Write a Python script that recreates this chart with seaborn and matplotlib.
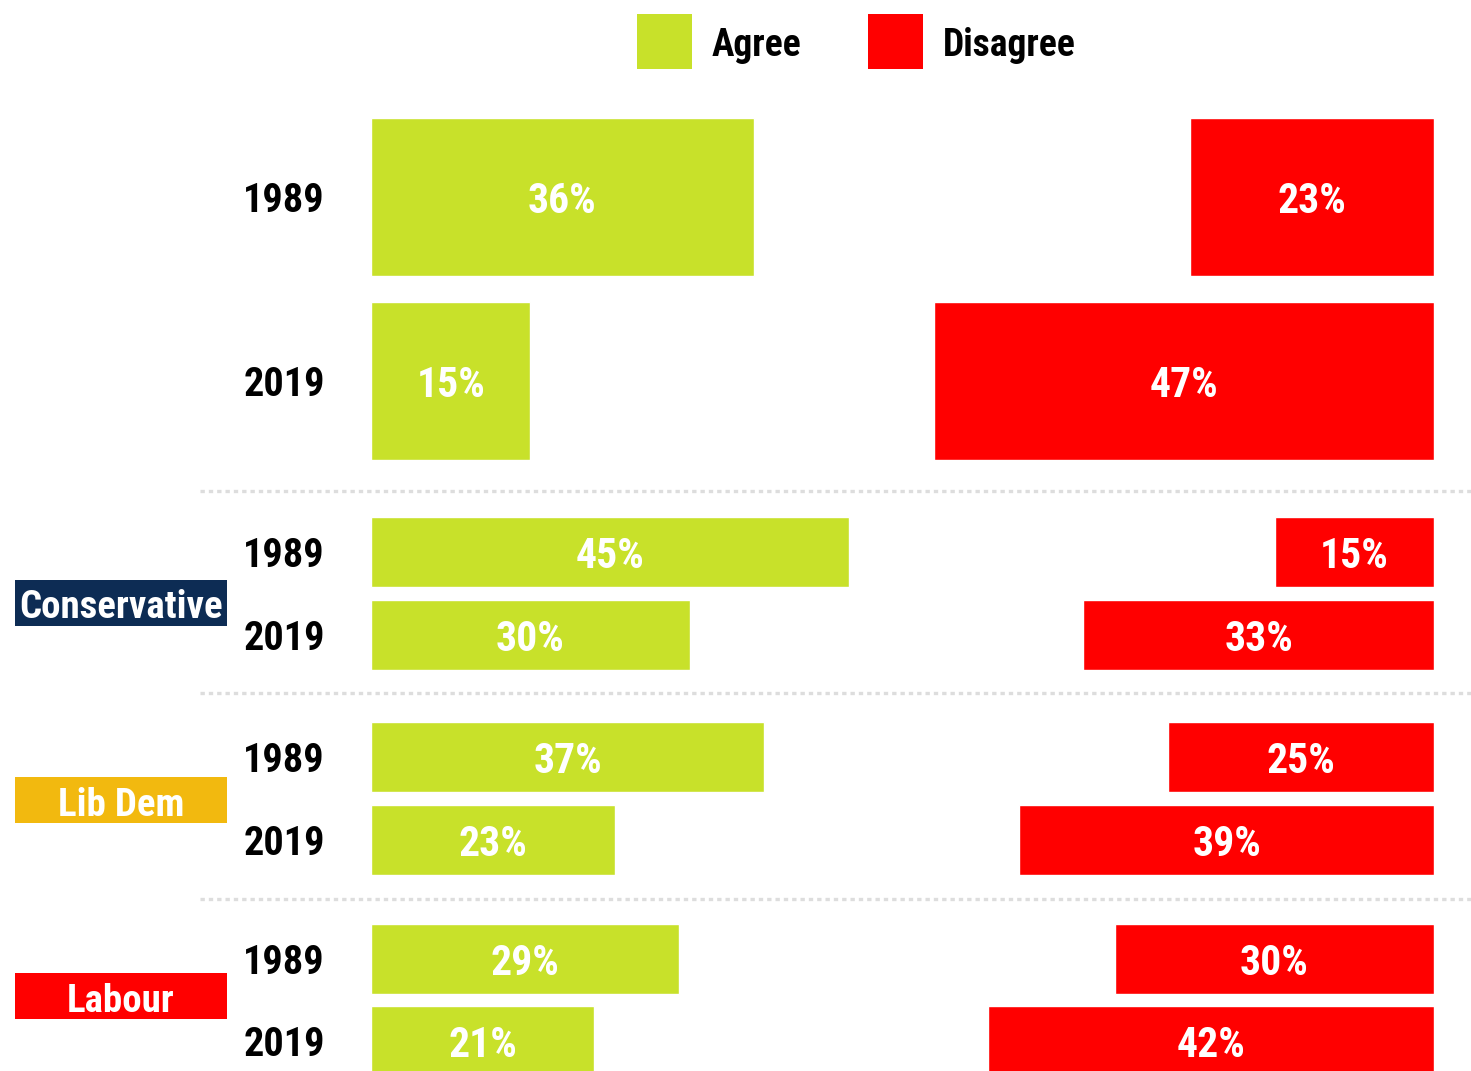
import matplotlib
matplotlib.use("Agg")
import matplotlib.pyplot as plt
import matplotlib.transforms as mtransforms
from matplotlib.patches import Rectangle
from matplotlib.lines import Line2D
import seaborn as sns
import pandas as pd
import logging
logging.getLogger("matplotlib.font_manager").setLevel(logging.ERROR)

# ---------------- data ----------------
years = ["1989", "2019"]
overall_agree = [36, 15]
overall_disagree = [23, 47]
con_agree = [45, 30]
con_disagree = [15, 33]
libdem_agree = [37, 23]
libdem_disagree = [25, 39]
labour_agree = [29, 21]
labour_disagree = [30, 42]
party_names = ["Conservative", "Lib Dem", "Labour"]
legend_labels = ["Agree", "Disagree"]

# ---------------- style ----------------
sns.set_theme(style="white")
FONT = ["Roboto Condensed", "DejaVu Sans Condensed", "Liberation Sans Narrow",
        "Roboto", "DejaVu Sans"]
plt.rcParams["font.family"] = FONT
GREEN = "#c8e12a"
RED = "#ff0000"
NAVY = "#0d2c54"
ORANGE = "#f2b90f"

W, H = 1471, 1071
fig = plt.figure(figsize=(W / 100, H / 100), dpi=100)
fig.patch.set_facecolor("white")


def fx(px):
    return px / W


def fy(py):
    return 1 - py / H


X0, X1 = 371, 1434

groups = [
    (overall_agree, overall_disagree, 118, 184, 158),
    (con_agree, con_disagree, 517, 83, 70),
    (libdem_agree, libdem_disagree, 722, 83, 70),
    (labour_agree, labour_disagree, 924, 82, 70),
]

for agree, disagree, top, pitch, barh in groups:
    w = barh / pitch
    hpx = (1 + w) * pitch
    ax = fig.add_axes([fx(X0), fy(top + hpx), fx(X1) - fx(X0), hpx / H])
    df = pd.DataFrame({"year": years, "agree": agree, "disagree": disagree})
    sns.barplot(data=df, x="agree", y="year", orient="h", color=GREEN,
                width=w, saturation=1, ax=ax)
    ax2 = ax.twiny()
    sns.barplot(data=df, x="disagree", y="year", orient="h", color=RED,
                width=w, saturation=1, ax=ax2)
    ax.set_xlim(0, 100)
    ax2.set_xlim(100, 0)
    ax.set_ylim(1 + w / 2, -w / 2)
    for a in (ax, ax2):
        a.axis("off")
        a.patch.set_alpha(0)
    for i, (ag, dg) in enumerate(zip(agree, disagree)):
        ax.text(ag / 2, i, f"{ag}%", color="white", fontsize=30,
                fontweight="bold", ha="center", va="center_baseline")
        ax2.text(dg / 2, i, f"{dg}%", color="white", fontsize=30,
                 fontweight="bold", ha="center", va="center_baseline")
    tr = mtransforms.blended_transform_factory(fig.transFigure, ax.transData)
    for i, yr in enumerate(years):
        ax.text(fx(325), i, yr, transform=tr, color="black", fontsize=29,
                fontweight="bold", ha="right", va="center_baseline")

# party label boxes
party_colors = [NAVY, ORANGE, RED]
party_box_top = [580, 777, 973]
for name, col, t in zip(party_names, party_colors, party_box_top):
    fig.add_artist(Rectangle((fx(15), fy(t + 46)), fx(227) - fx(15), 46 / H,
                             transform=fig.transFigure, facecolor=col,
                             edgecolor="none"))
    fig.text(fx(121), fy(t + 24), name, color="white", fontsize=28,
             fontweight="bold", ha="center", va="center_baseline")

# dotted separators
for y in [491, 693, 899]:
    fig.add_artist(Line2D([fx(200), fx(1471)], [fy(y), fy(y)],
                          transform=fig.transFigure, color="#dddddd",
                          lw=2.4, dashes=(1.3, 1.2), dash_capstyle="butt"))

# legend
for lab, col, x_sq, x_tx in zip(legend_labels, [GREEN, RED], [637, 868], [712, 943]):
    fig.add_artist(Rectangle((fx(x_sq), fy(69)), fx(55), 55 / H,
                             transform=fig.transFigure, facecolor=col,
                             edgecolor="none"))
    fig.text(fx(x_tx), fy(42), lab, color="black", fontsize=27,
             fontweight="bold", ha="left", va="center_baseline")

fig.savefig("out.png", dpi=100, facecolor="white")
